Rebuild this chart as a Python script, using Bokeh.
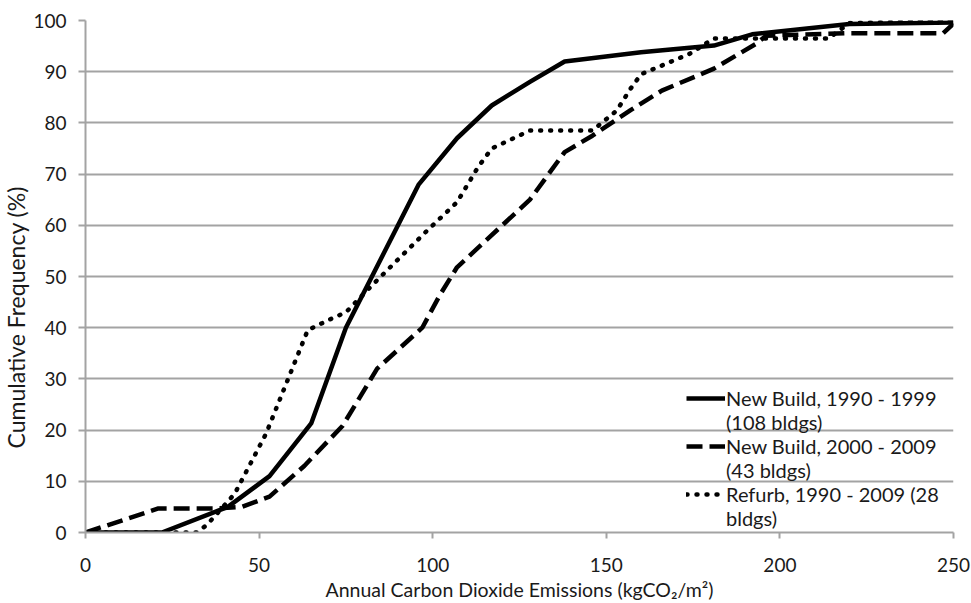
from bokeh.plotting import figure
from bokeh.models import Range1d, Legend, LegendItem, FixedTicker, Title
from bokeh.embed import file_html
from bokeh.resources import INLINE

# Data (x: kgCO2/m2, y: cumulative %)
nb90_x = [0, 22, 41, 53, 65, 75, 96, 107, 117, 128, 138, 160, 181, 192, 220, 250]
nb90_y = [0, 0, 5, 11, 21.3, 40, 68, 77, 83.4, 88, 92, 93.8, 95.1, 97.3, 99.3, 99.6]

nb00_x = [0, 21, 38, 45, 53, 63, 74, 84, 97, 102, 107, 128, 138, 146, 157, 166, 181, 193, 196, 219, 247, 250]
nb00_y = [0, 4.7, 4.7, 5, 7, 13, 20.8, 32, 40, 46.3, 51.8, 65, 74.3, 77.5, 82.5, 86.3, 90.6, 95.4, 97, 97.5, 97.5, 99.4]

ref_x = [0, 32, 35, 43, 52, 64, 70, 75, 83, 98, 107, 113, 117, 128, 146, 153, 157, 160, 166, 174, 181, 214, 220, 250]
ref_y = [0, 0, 1.5, 7.6, 19.3, 39.5, 41.5, 43, 48.6, 58.7, 64.5, 71.3, 75, 78.5, 78.5, 82.4, 86.7, 89.5, 91.2, 93.5, 96.5, 96.5, 99.5, 100]

x_ticks = [0, 50, 100, 150, 200, 250]
y_ticks = [0, 10, 20, 30, 40, 50, 60, 70, 80, 90, 100]

labels = ["New Build, 1990 - 1999", "(108 bldgs)",
          "New Build, 2000 - 2009", "(43 bldgs)",
          "Refurb, 1990 - 2009 (28", "bldgs)"]

FONT = "Lato"
TXT = "#1a1a1a"
GRID = "#a3a3a3"

p = figure(width=971, height=603, output_backend="svg", toolbar_location=None,
           x_range=Range1d(0, 250), y_range=Range1d(0, 100),
           min_border_left=85, min_border_right=18, min_border_top=20, min_border_bottom=71)
p.outline_line_color = None
p.background_fill_color = "white"
p.border_fill_color = "white"

p.xgrid.grid_line_color = None
p.ygrid.grid_line_color = GRID
p.ygrid.grid_line_width = 2
p.ygrid.ticker = FixedTicker(ticks=y_ticks)

for ax in (p.xaxis[0], p.yaxis[0]):
    ax.axis_line_color = GRID
    ax.axis_line_width = 2
    ax.major_tick_line_color = GRID
    ax.major_tick_line_width = 2
    ax.minor_tick_line_color = None
    ax.major_tick_in = 0
    ax.major_label_text_font = FONT
    ax.major_label_text_font_size = "19px"
    ax.major_label_text_color = TXT
    ax.axis_label_text_font = FONT
    ax.axis_label_text_font_size = "19.5px"
    ax.axis_label_text_color = TXT
    ax.axis_label_text_font_style = "normal"

p.xaxis.ticker = FixedTicker(ticks=x_ticks)
p.yaxis.ticker = FixedTicker(ticks=y_ticks)
p.xaxis.major_tick_out = 6
p.yaxis.major_tick_out = 7
p.xaxis.major_label_standoff = 19
p.yaxis.major_label_standoff = 12
p.xaxis.axis_label = "Annual Carbon Dioxide Emissions (kgCO\u2082/m\u00b2)"
p.xaxis.axis_label_standoff = 3

ytitle = Title(text="Cumulative Frequency (%)", align="left", offset=84,
               vertical_align="middle", standoff=0,
               text_font=FONT, text_font_size="23px", text_font_style="normal",
               text_color=TXT)
p.add_layout(ytitle, "left")

r1 = p.line(nb90_x, nb90_y, line_color="black", line_width=4.5, line_join="round")
r2 = p.line(nb00_x, nb00_y, line_color="black", line_width=4.5, line_dash="16 7")
r3 = p.line(ref_x, ref_y, line_color="black", line_width=4.5, line_dash="1 9", line_cap="round")
blank = p.line([], [], line_alpha=0)

items = [LegendItem(label=labels[0], renderers=[r1]),
         LegendItem(label=labels[1], renderers=[blank]),
         LegendItem(label=labels[2], renderers=[r2]),
         LegendItem(label=labels[3], renderers=[blank]),
         LegendItem(label=labels[4], renderers=[r3]),
         LegendItem(label=labels[5], renderers=[blank])]
leg = Legend(items=items, location=(601, 2))
leg.glyph_width = 39
leg.glyph_height = 24
leg.label_height = 24
leg.label_standoff = 1
leg.spacing = 0
leg.padding = 0
leg.margin = 0
leg.border_line_color = None
leg.background_fill_alpha = 0
leg.label_text_font = FONT
leg.label_text_font_size = "20px"
leg.label_text_color = TXT
p.add_layout(leg)

open("out.html", "w").write(file_html(p, INLINE))
